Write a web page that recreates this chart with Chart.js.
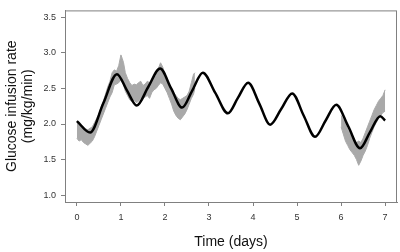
<!DOCTYPE html>
<html>
<head>
<meta charset="utf-8">
<script src="https://cdn.jsdelivr.net/npm/chart.js@4.4.1/dist/chart.umd.min.js"></script>
<style>
  html, body { margin: 0; padding: 0; background: #fff; }
  #wrap { width: 400px; height: 252px; }
</style>
</head>
<body>
<div id="wrap"><canvas id="chart" width="400" height="252"></canvas></div>
<script>
// Curva modelo (negra): tiempo en dias, tasa en mg/kg/min
const curveT = [0.00, 0.30, 0.60, 0.91, 1.13, 1.36, 1.62, 1.89, 2.14, 2.39, 2.62, 2.86, 3.14, 3.43, 3.66, 3.89,
                4.14, 4.39, 4.64, 4.89, 5.15, 5.41, 5.65, 5.89, 6.16, 6.43, 6.66, 6.89, 7.00];
const curveV = [2.04, 1.88, 2.29, 2.70, 2.48, 2.26, 2.52, 2.78, 2.50, 2.23, 2.47, 2.72, 2.44, 2.15, 2.37, 2.58,
                2.29, 1.99, 2.21, 2.43, 2.12, 1.82, 2.05, 2.27, 1.97, 1.66, 1.89, 2.11, 2.05];

// Datos medidos (banda gris), tramo 1
const band1T  = [0.00, 0.05, 0.10, 0.15, 0.20, 0.25, 0.30, 0.35, 0.40, 0.45, 0.50, 0.55, 0.60, 0.65, 0.70, 0.75,
                 0.80, 0.85, 0.90, 0.95, 1.00, 1.03, 1.06, 1.10, 1.15, 1.20, 1.25, 1.30, 1.35, 1.40, 1.45, 1.50,
                 1.55, 1.60, 1.65, 1.70, 1.75, 1.80, 1.85, 1.90, 1.95, 2.00, 2.05, 2.10, 2.15, 2.20, 2.25, 2.30,
                 2.35, 2.40, 2.45, 2.50, 2.55, 2.60, 2.65, 2.68];
const band1Hi = [2.04, 2.00, 1.98, 1.96, 1.93, 1.92, 1.94, 1.96, 2.02, 2.08, 2.14, 2.24, 2.32, 2.42, 2.52, 2.60,
                 2.72, 2.76, 2.74, 2.82, 2.97, 2.92, 2.86, 2.72, 2.64, 2.58, 2.54, 2.56, 2.55, 2.58, 2.60, 2.54,
                 2.56, 2.60, 2.58, 2.62, 2.66, 2.68, 2.78, 2.86, 2.80, 2.70, 2.62, 2.56, 2.50, 2.44, 2.40, 2.36,
                 2.34, 2.36, 2.38, 2.40, 2.46, 2.58, 2.70, 2.72];
const band1Lo = [1.80, 1.76, 1.78, 1.74, 1.72, 1.70, 1.73, 1.76, 1.82, 1.90, 1.98, 2.06, 2.14, 2.22, 2.30, 2.38,
                 2.44, 2.55, 2.56, 2.58, 2.62, 2.60, 2.55, 2.46, 2.40, 2.34, 2.32, 2.34, 2.30, 2.32, 2.36, 2.36,
                 2.38, 2.40, 2.36, 2.44, 2.48, 2.50, 2.54, 2.58, 2.56, 2.50, 2.44, 2.36, 2.28, 2.18, 2.12, 2.08,
                 2.06, 2.10, 2.14, 2.20, 2.28, 2.36, 2.42, 2.50];

// Datos medidos (banda gris), tramo 2
const band2T  = [6.00, 6.05, 6.10, 6.15, 6.20, 6.25, 6.30, 6.35, 6.40, 6.45, 6.50, 6.55, 6.60, 6.65, 6.70, 6.75,
                 6.80, 6.85, 6.90, 6.95, 7.00];
const band2Hi = [2.12, 2.06, 2.00, 1.92, 1.86, 1.80, 1.76, 1.74, 1.76, 1.74, 1.80, 1.88, 1.96, 2.04, 2.12, 2.20,
                 2.26, 2.32, 2.36, 2.40, 2.48];
const band2Lo = [1.96, 1.86, 1.76, 1.70, 1.64, 1.60, 1.56, 1.50, 1.42, 1.48, 1.56, 1.62, 1.70, 1.80, 1.88, 1.96,
                 2.02, 2.08, 2.12, 2.16, 2.18];

const xTicks = [0, 1, 2, 3, 4, 5, 6, 7];
const yTicks = [1.0, 1.5, 2.0, 2.5, 3.0, 3.5];

const FONT = "'Liberation Sans', Arial, sans-serif";
const GRAY = '#a9a9a9';
const AXIS = '#808080';

function pts(xs, ys) {
    return xs.map((x, i) => ({ x: x, y: ys[i] }));
}

// Caja alrededor del area y titulos de ejes
const frameAndTitles = {
    id: 'frameAndTitles',
    afterDraw(chart) {
        const ctx = chart.ctx;
        const a = chart.chartArea;
        ctx.save();
        ctx.strokeStyle = AXIS;
        ctx.lineWidth = 1;
        ctx.strokeRect(a.left + 0.5, a.top + 0.5, a.right - a.left - 1, a.bottom - a.top);

        ctx.fillStyle = '#111';
        ctx.font = '14px ' + FONT;
        ctx.textAlign = 'center';
        ctx.textBaseline = 'middle';
        ctx.fillText('Time (days)', (a.left + a.right) / 2, 242);

        const cy = (a.top + a.bottom) / 2;
        ctx.translate(12, cy);
        ctx.rotate(-Math.PI / 2);
        ctx.fillText('Glucose infusion rate', 0, 0);
        ctx.fillText('(mg/kg/min)', 0, 16);
        ctx.restore();
    }
};

new Chart(document.getElementById('chart'), {
    type: 'line',
    data: {
        datasets: [
            { data: pts(band1T, band1Lo), borderColor: GRAY, borderWidth: 1, pointRadius: 0, fill: false, tension: 0, order: 2 },
            { data: pts(band1T, band1Hi), borderColor: GRAY, borderWidth: 1, pointRadius: 0, fill: '-1', backgroundColor: GRAY, tension: 0, order: 2 },
            { data: pts(band2T, band2Lo), borderColor: GRAY, borderWidth: 1, pointRadius: 0, fill: false, tension: 0, order: 2 },
            { data: pts(band2T, band2Hi), borderColor: GRAY, borderWidth: 1, pointRadius: 0, fill: '-1', backgroundColor: GRAY, tension: 0, order: 2 },
            { data: pts(curveT, curveV), borderColor: '#000', borderWidth: 2.5, pointRadius: 0, fill: false,
              cubicInterpolationMode: 'monotone', order: 0 }
        ]
    },
    options: {
        responsive: false,
        animation: false,
        devicePixelRatio: 1,
        layout: { padding: { top: 3, right: 3, left: 0, bottom: 0 } },
        plugins: { legend: { display: false }, tooltip: { enabled: false } },
        scales: {
            x: {
                type: 'linear',
                min: -0.27,
                max: 7.27,
                afterBuildTicks: (scale) => { scale.ticks = xTicks.map(v => ({ value: v })); },
                afterFit: (scale) => { scale.height = 50; },
                grid: { drawOnChartArea: false, drawTicks: true, tickLength: 4, color: AXIS },
                border: { display: true, color: AXIS },
                ticks: { color: '#333', font: { family: FONT, size: 9 }, padding: 6, maxRotation: 0,
                         callback: (v) => String(v) }
            },
            y: {
                min: 0.905,
                max: 3.595,
                afterBuildTicks: (scale) => { scale.ticks = yTicks.map(v => ({ value: v })); },
                afterFit: (scale) => { scale.width = 65; },
                grid: { drawOnChartArea: false, drawTicks: true, tickLength: 4, color: AXIS },
                border: { display: true, color: AXIS },
                ticks: { color: '#333', font: { family: FONT, size: 9 }, padding: 5,
                         callback: (v) => v.toFixed(1) }
            }
        }
    },
    plugins: [frameAndTitles]
});
</script>
</body>
</html>
